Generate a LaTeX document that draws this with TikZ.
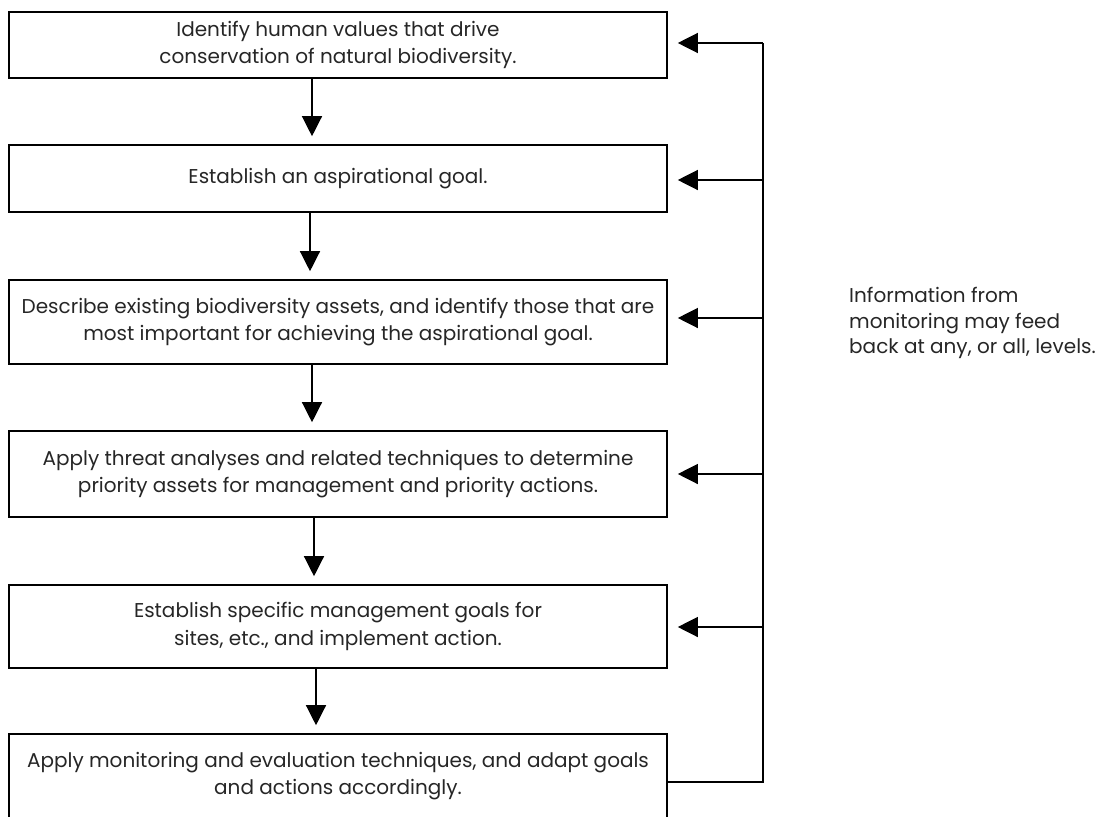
\documentclass[tikz,border=0pt]{standalone}
\usepackage{fontspec}
\setmainfont{Poppins}
\usetikzlibrary{arrows.meta,calc}
\begin{document}
\begin{tikzpicture}[x=1pt,y=-1pt,
  stepbox/.style={draw,line width=1.6pt,rectangle,minimum width=658pt,inner sep=0pt,align=center,
     text=black!85,font=\fontsize{20}{27.5}\selectfont},
  conn/.style={line width=1.3pt},
  dn/.style={line width=1.3pt,-{Triangle[length=20pt,width=20pt]},shorten >=8pt},
  fb/.style={line width=1.3pt,-{Triangle[length=20pt,width=20pt]},shorten >=10pt},
  note/.style={align=left,anchor=west,inner sep=0pt,text=black!85,font=\fontsize{20}{25.5}\selectfont}]
\useasboundingbox (0,0) rectangle (1107,816);
\node[stepbox,minimum height=66pt] (b1) at (338,45) {Identify human values that drive\\conservation of natural biodiversity.};
\node[stepbox,minimum height=67pt] (b2) at (338,178.5) {Establish an aspirational goal.};
\node[stepbox,minimum height=84pt] (b3) at (338,322) {Describe existing biodiversity assets, and identify those that are\\most important for achieving the aspirational goal.};
\node[stepbox,minimum height=86pt] (b4) at (338,474) {Apply threat analyses and related techniques to determine\\priority assets for management and priority actions.};
\node[stepbox,minimum height=83pt] (b5) at (338,626.5) {Establish specific management goals for\\sites, etc., and implement action.};
\node[stepbox,minimum height=84pt] (b6) at (338,776) {Apply monitoring and evaluation techniques, and adapt goals\\and actions accordingly.};
\node[note] (n) at (849,323) {Information from\\monitoring may feed\\back at any, or all, levels.};
% down arrows
\coordinate (xa) at (312,0);
\coordinate (xb) at (310,0);
\coordinate (xc) at (312,0);
\coordinate (xd) at (314,0);
\coordinate (xe) at (316,0);
\draw[dn] (b1.south -| xa) -- (b2.north -| xa);
\draw[dn] (b2.south -| xb) -- (b3.north -| xb);
\draw[dn] (b3.south -| xc) -- (b4.north -| xc);
\draw[dn] (b4.south -| xd) -- (b5.north -| xd);
\draw[dn] (b5.south -| xe) -- (b6.north -| xe);
% feedback
\coordinate (f1) at (763,43);
\coordinate (f2) at (763,180);
\coordinate (f3) at (763,318);
\coordinate (f4) at (763,474);
\coordinate (f5) at (763,627);
\coordinate (f6) at (763,782);
\draw[conn] (b6.east |- f6) -- (f6) -- (f1);
\draw[fb] (f1) -- (f1 -| b1.east);
\draw[fb] (f2) -- (f2 -| b2.east);
\draw[fb] (f3) -- (f3 -| b3.east);
\draw[fb] (f4) -- (f4 -| b4.east);
\draw[fb] (f5) -- (f5 -| b5.east);
\end{tikzpicture}
\end{document}
